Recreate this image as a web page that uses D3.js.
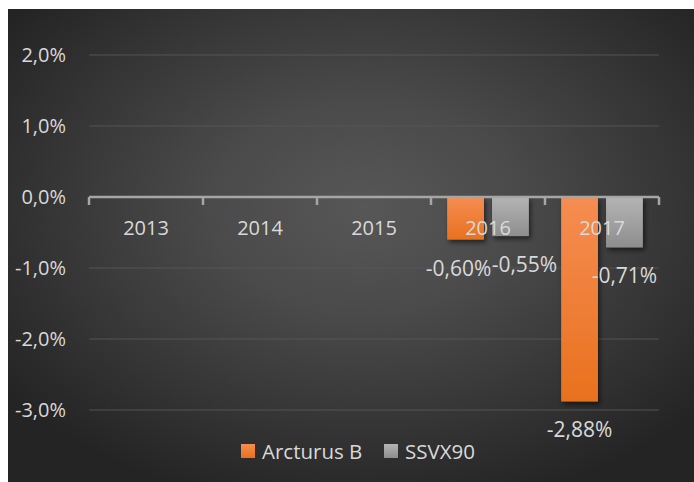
<!DOCTYPE html>
<html>
<head>
<meta charset="utf-8">
<script src="https://cdn.jsdelivr.net/npm/d3@7"></script>
<style>
	html, body { margin: 0; padding: 0; background: #fff; }
	svg text { font-family: "Open Sans", "Noto Sans", sans-serif; fill: #d9d9d9; }
</style>
</head>
<body>
<svg id="chart"></svg>
<script>
const WIDTH = 694;
const HEIGHT = 482;

const years = ["2013", "2014", "2015", "2016", "2017"];
const seriesNames = ["Arcturus B", "SSVX90"];
const arcturusValues = [null, null, null, -0.60, -2.88];
const ssvxValues = [null, null, null, -0.55, -0.71];
const yTicks = [2, 1, 0, -1, -2, -3];

const svg = d3.select("#chart").attr("width", WIDTH).attr("height", HEIGHT);

// plot frame (chart area starts a few px in, as in the picture)
const FRAME = { x: 8, y: 9 };
const PLOT = { left: 89, right: 659 };

const xScale = d3.scaleBand(years, [PLOT.left, PLOT.right]).paddingInner(0).paddingOuter(0);
const yScale = d3.scaleLinear([-3, 2], [410, 55]);

const defs = svg.append("defs");

const bg = defs.append("radialGradient")
	.attr("id", "bgGrad")
	.attr("cx", "52%").attr("cy", "42%").attr("r", "65%");
bg.append("stop").attr("offset", "0%").attr("stop-color", "#575757");
bg.append("stop").attr("offset", "35%").attr("stop-color", "#4a4a4a");
bg.append("stop").attr("offset", "100%").attr("stop-color", "#242424");

const orangeGrad = defs.append("linearGradient")
	.attr("id", "orangeGrad").attr("x1", 0).attr("x2", 0).attr("y1", 0).attr("y2", 1);
orangeGrad.append("stop").attr("offset", "0%").attr("stop-color", "#f58d52");
orangeGrad.append("stop").attr("offset", "100%").attr("stop-color", "#e9711e");

const greyGrad = defs.append("linearGradient")
	.attr("id", "greyGrad").attr("x1", 0).attr("x2", 0).attr("y1", 0).attr("y2", 1);
greyGrad.append("stop").attr("offset", "0%").attr("stop-color", "#b4b4b4");
greyGrad.append("stop").attr("offset", "100%").attr("stop-color", "#8e8e8e");

const shadow = defs.append("filter").attr("id", "shadow")
	.attr("x", "-30%").attr("y", "-10%").attr("width", "160%").attr("height", "130%");
shadow.append("feDropShadow")
	.attr("dx", 2).attr("dy", 3).attr("stdDeviation", 2.5)
	.attr("flood-color", "#000").attr("flood-opacity", 0.55);

svg.append("rect")
	.attr("x", FRAME.x).attr("y", FRAME.y)
	.attr("width", WIDTH - FRAME.x).attr("height", HEIGHT - FRAME.y)
	.attr("fill", "url(#bgGrad)");

// gridlines
svg.append("g").selectAll("line")
	.data(yTicks.filter(t => t !== 0))
	.join("line")
	.attr("x1", PLOT.left).attr("x2", PLOT.right)
	.attr("y1", d => yScale(d)).attr("y2", d => yScale(d))
	.attr("stroke", "#595959").attr("stroke-opacity", 0.6).attr("stroke-width", 1.5);

// comma decimals and a plain hyphen for the minus, as in the picture
const toLocal = s => s.replace("\u2212", "-").replace(".", ",");
const fmtPct = d => toLocal(d3.format(".1f")(d)) + "%";
const fmtVal = d => toLocal(d3.format(".2f")(d)) + "%";

// y labels
svg.append("g").selectAll("text")
	.data(yTicks)
	.join("text")
	.attr("x", 66)
	.attr("y", d => yScale(d))
	.attr("dy", "0.36em")
	.attr("text-anchor", "end")
	.style("font-size", "20px")
	.text(fmtPct);

// bars
const subScale = d3.scaleBand(seriesNames, [0, xScale.bandwidth()]).paddingInner(0.18).paddingOuter(0.36);
const fills = ["url(#orangeGrad)", "url(#greyGrad)"];
const seriesData = [arcturusValues, ssvxValues];

const barData = [];
years.forEach((year, i) => {
	seriesNames.forEach((name, s) => {
		const v = seriesData[s][i];
		if (v !== null) barData.push({ year, name, s, v });
	});
});

svg.append("g").selectAll("rect")
	.data(barData)
	.join("rect")
	.attr("x", d => xScale(d.year) + subScale(d.name))
	.attr("y", yScale(0))
	.attr("width", subScale.bandwidth())
	.attr("height", d => yScale(d.v) - yScale(0))
	.attr("fill", d => fills[d.s])
	.attr("filter", "url(#shadow)");

// category axis
const axisG = svg.append("g").attr("transform", `translate(0,${yScale(0)})`);
axisG.append("line")
	.attr("x1", PLOT.left).attr("x2", PLOT.right)
	.attr("stroke", "#a6a6a6").attr("stroke-width", 2.5);
axisG.selectAll(".tick")
	.data([...years.map(y => xScale(y)), PLOT.right])
	.join("line")
	.attr("class", "tick")
	.attr("x1", d => d).attr("x2", d => d)
	.attr("y1", 0).attr("y2", 8)
	.attr("stroke", "#a6a6a6").attr("stroke-width", 2.5);
axisG.selectAll("text")
	.data(years)
	.join("text")
	.attr("x", d => xScale(d) + xScale.bandwidth() / 2)
	.attr("y", 38)
	.attr("text-anchor", "middle")
	.style("font-size", "20px")
	.text(d => d);

// value labels (2016 pair nudged apart so they don't collide)
const labelNudge = { "2016|Arcturus B": -7, "2016|SSVX90": 14 };
svg.append("g").selectAll("text")
	.data(barData)
	.join("text")
	.attr("x", d => xScale(d.year) + subScale(d.name) + subScale.bandwidth() / 2 + (labelNudge[`${d.year}|${d.name}`] || 0))
	.attr("y", d => yScale(d.v) + 36)
	.attr("text-anchor", "middle")
	.style("font-size", "21px")
	.text(d => fmtVal(d.v));

// legend
const legend = svg.append("g").attr("transform", "translate(241,444)");
const legendX = [0, 143];
seriesNames.forEach((name, s) => {
	const g = legend.append("g").attr("transform", `translate(${legendX[s]},0)`);
	g.append("rect").attr("width", 14).attr("height", 14).attr("fill", fills[s]);
	g.append("text")
		.attr("x", 21).attr("y", 14.5)
		.style("font-size", "20.5px")
		.text(name);
});
</script>
</body>
</html>
